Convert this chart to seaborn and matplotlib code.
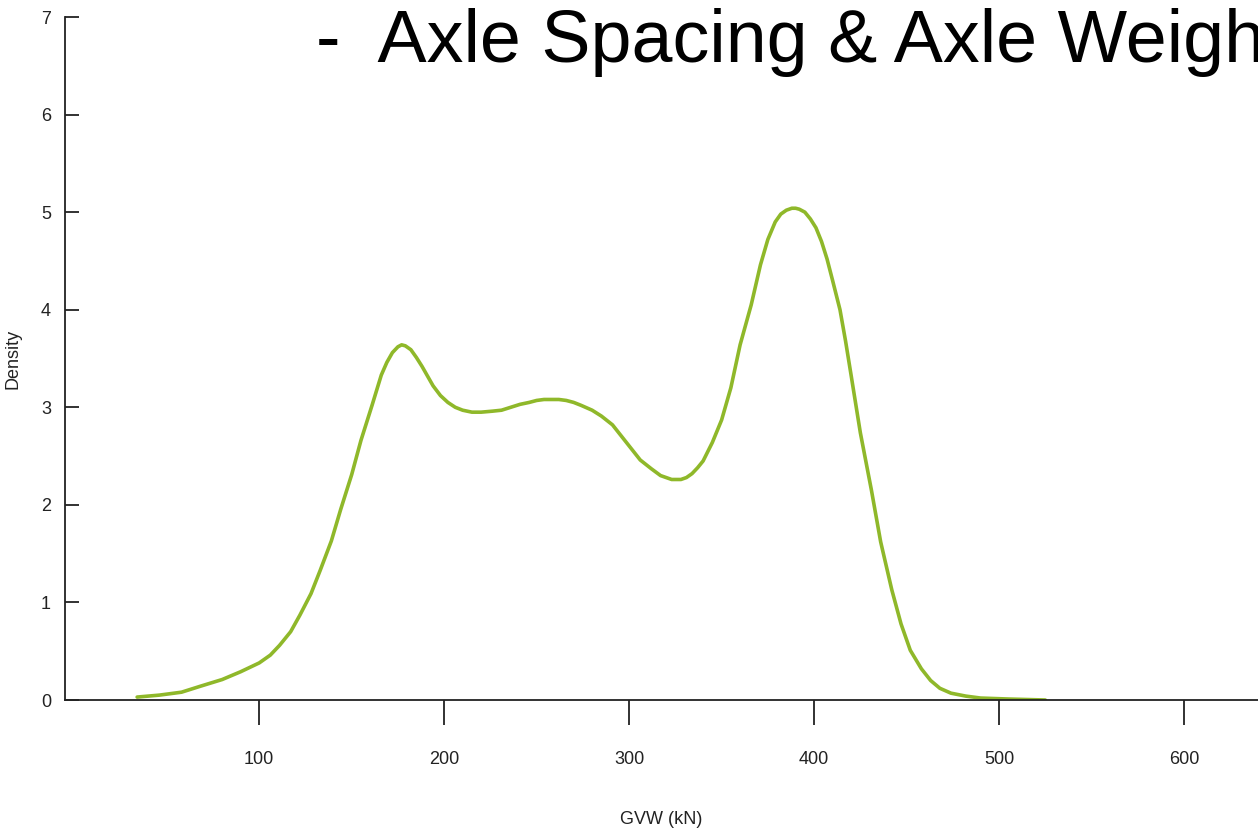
import pandas as pd
import matplotlib
matplotlib.use("Agg")
import matplotlib.pyplot as plt
import seaborn as sns

gvw = [34, 46, 58, 68, 80, 90, 100, 106, 111, 117, 122, 128, 133, 139, 144,
       150, 155, 161, 166, 169, 172, 175, 177, 179, 182, 185, 188, 191, 194,
       198, 202, 206, 210, 215, 220, 226, 231, 236, 241, 246, 250, 254, 258,
       262, 266, 270, 274, 280, 285, 291, 296, 301, 306, 312, 317, 320, 323,
       326, 328, 331, 334, 337, 340, 345, 350, 355, 360, 366, 371, 375, 379,
       382, 385, 388, 390, 392, 395, 398, 401, 404, 407, 410, 414, 417, 420,
       425, 431, 436, 442, 447, 452, 458, 463, 468, 474, 482, 490, 505, 525]
densidad = [0.03, 0.05, 0.08, 0.14, 0.21, 0.29, 0.38, 0.46, 0.56, 0.70, 0.87,
            1.09, 1.33, 1.63, 1.95, 2.31, 2.66, 3.02, 3.33, 3.46, 3.56, 3.62,
            3.64, 3.63, 3.59, 3.51, 3.42, 3.32, 3.22, 3.12, 3.05, 3.00, 2.97,
            2.95, 2.95, 2.96, 2.97, 3.00, 3.03, 3.05, 3.07, 3.08, 3.08, 3.08,
            3.07, 3.05, 3.02, 2.97, 2.91, 2.82, 2.70, 2.58, 2.46, 2.37, 2.30,
            2.28, 2.26, 2.26, 2.26, 2.28, 2.32, 2.38, 2.45, 2.64, 2.87, 3.20,
            3.64, 4.05, 4.46, 4.72, 4.90, 4.98, 5.02, 5.04, 5.04, 5.03, 5.00,
            4.93, 4.84, 4.70, 4.52, 4.30, 4.00, 3.68, 3.33, 2.74, 2.15, 1.62,
            1.13, 0.78, 0.51, 0.32, 0.20, 0.12, 0.07, 0.04, 0.02, 0.01, 0.0]

titulo = "-  Axle Spacing & Axle Weight"

df = pd.DataFrame({"gvw": gvw, "densidad": densidad})

sns.set_style("white")
plt.rcParams['font.family'] = ['Liberation Sans', 'DejaVu Sans']

fig = plt.figure(figsize=(12.58, 8.30), dpi=100)
ax = fig.add_axes([65 / 1258, 130 / 830, 1 - 65 / 1258, (700 - 17) / 830])

sns.lineplot(data=df, x="gvw", y="densidad", color="#8fb82a", linewidth=2.6, ax=ax)

ax.set_xlim(-5, 640)
ax.set_ylim(0, 7)
ax.set_xticks([100, 200, 300, 400, 500, 600])
ax.set_yticks(range(0, 8))

sns.despine(ax=ax)
for s in ["left", "bottom"]:
    ax.spines[s].set_color("#222222")
    ax.spines[s].set_linewidth(1.3)

ax.tick_params(axis="y", direction="in", length=10, width=1.3, pad=10,
               labelsize=13, colors="#222222", left=True)
ax.tick_params(axis="x", direction="out", length=18, width=1.3, pad=19,
               labelsize=13, colors="#222222", bottom=True)

ax.set_xlabel("GVW (kN)", fontsize=13, color="#222222", labelpad=31)
ax.set_ylabel("Density", fontsize=13, color="#222222", labelpad=14)

# Titulo grande, cortado en el borde derecho como en la imagen original
fig.text(316 / 1258, 1 - 62 / 830, titulo, fontsize=53, color="black",
         ha="left", va="baseline")

fig.savefig("out.png", dpi=100)
